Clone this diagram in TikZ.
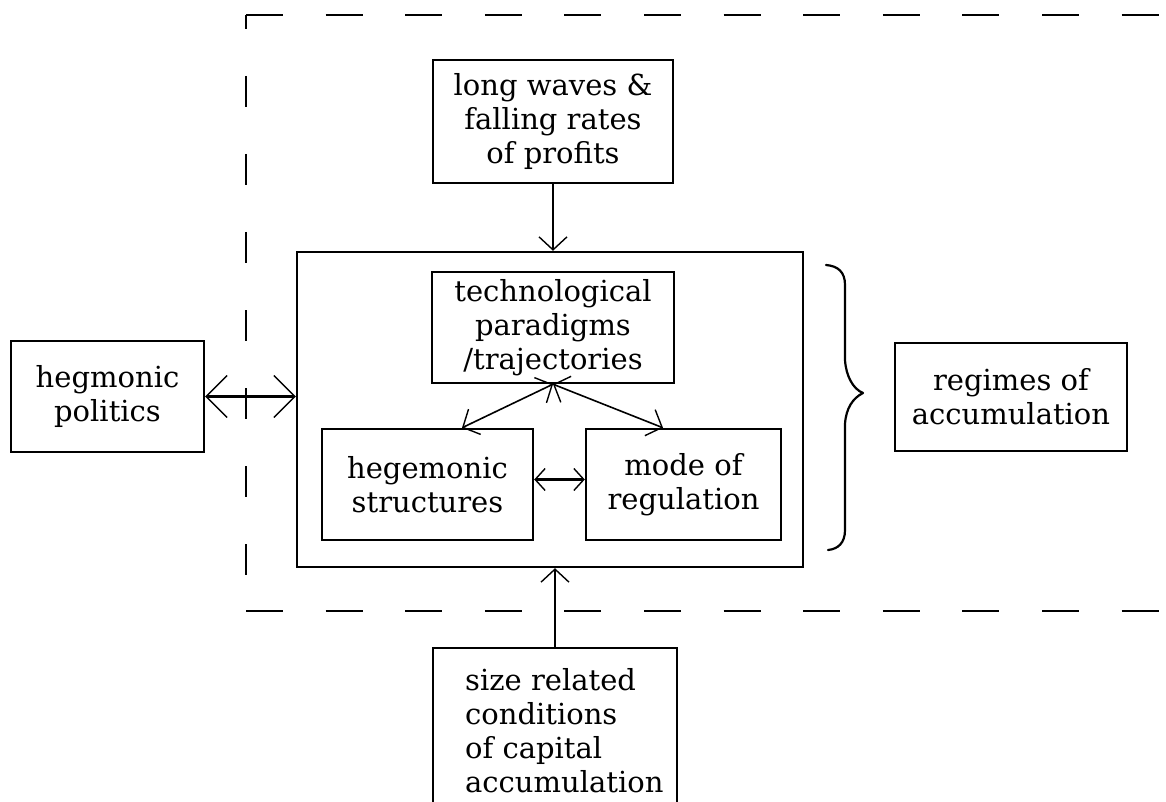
\documentclass[tikz,border=0pt]{standalone}
\usepackage{fontspec}
\setmainfont{DejaVu Serif}
\usetikzlibrary{arrows.meta,calc}

\tikzset{
  barb/.tip={Straight Barb[length=13pt,width=28pt,line width=1.4pt]},
  smallbarb/.tip={Straight Barb[length=10pt,width=22pt,line width=1.4pt]},
  bigbarb/.tip={Straight Barb[length=21pt,width=42pt,line width=1.4pt]},
  box/.style={draw, line width=2.4pt, inner sep=0pt, align=center,
              font=\fontsize{29}{34}\selectfont},
  boxtext/.style={inner sep=0pt, align=left, font=\fontsize{29}{34}\selectfont},
  conn/.style={line width=2.2pt},
  diag/.style={line width=1.6pt},
  frame/.style={line width=2.6pt, dash pattern=on 37pt off 42.6pt},
  bracket/.style={line width=2.2pt, line join=round, line cap=round}
}

\begin{document}
\begin{tikzpicture}[x=1pt,y=-1pt]
  \useasboundingbox (0,0) rectangle (1166,802);
  \clip (0,0) rectangle (1166,802);

  % open dashed frame around the accumulation block
  \draw[frame] (246,15) -- (1185,15);
  \draw[frame] (246,611) -- (1185,611);
  \draw[frame, dash pattern=on 31pt off 47pt, dash phase=17pt] (246,15) -- (246,611);

  % boxes
  \node[box, minimum width=240pt, minimum height=123pt] (waves) at (553,121.5)
    {long waves \&\\falling rates\\of profits};
  \node[box, minimum width=506pt, minimum height=315pt] (outer) at (550,409.5) {};
  \node[box, minimum width=242pt, minimum height=111pt] (tech) at (553,327.5)
    {technological\\paradigms\\/trajectories};
  \node[box, minimum width=211pt, minimum height=111pt] (hstruct) at (427.5,484.5)
    {hegemonic\\structures};
  \node[box, minimum width=195pt, minimum height=111pt] (mode) at (683.5,484.5)
    {mode of\\regulation};
  \node[box, minimum width=193pt, minimum height=111pt] (politics) at (107.5,396.5)
    {hegmonic\\politics};
  \node[box, minimum width=232pt, minimum height=108pt] (regimes) at (1011,397)
    {regimes of\\accumulation};
  \node[box, minimum width=244pt, minimum height=166pt] (size) at (555,731) {};
  \node[boxtext, anchor=west] (sizetext) at (465,731)
    {size related\\conditions\\of capital\\accumulation};

  % connectors
  \draw[conn, -barb] (waves.south) -- (waves.south |- outer.north);
  \draw[conn, -barb] (size.north) -- (size.north |- outer.south);
  \draw[conn, bigbarb-bigbarb] (politics.east) -- (politics.east -| outer.west);
  \draw[conn, smallbarb-smallbarb] ([yshift=5pt]hstruct.east) -- ([yshift=5pt]mode.west);
  \draw[diag, barb-barb] (tech.south) -- ([xshift=34.5pt]hstruct.north);
  \draw[diag, barb-barb] (tech.south) -- ([xshift=-20.5pt]mode.north);

  % curly brace grouping the block as regimes of accumulation
  \draw[bracket] (826,265) .. controls (838,266) and (845,272) .. (845,285)
    -- (845,360) .. controls (846,376) and (853,389) .. (863,393)
    .. controls (853,398) and (846,408) .. (845,424)
    -- (845,530) .. controls (845,543) and (838,549) .. (828,550);
\end{tikzpicture}
\end{document}
